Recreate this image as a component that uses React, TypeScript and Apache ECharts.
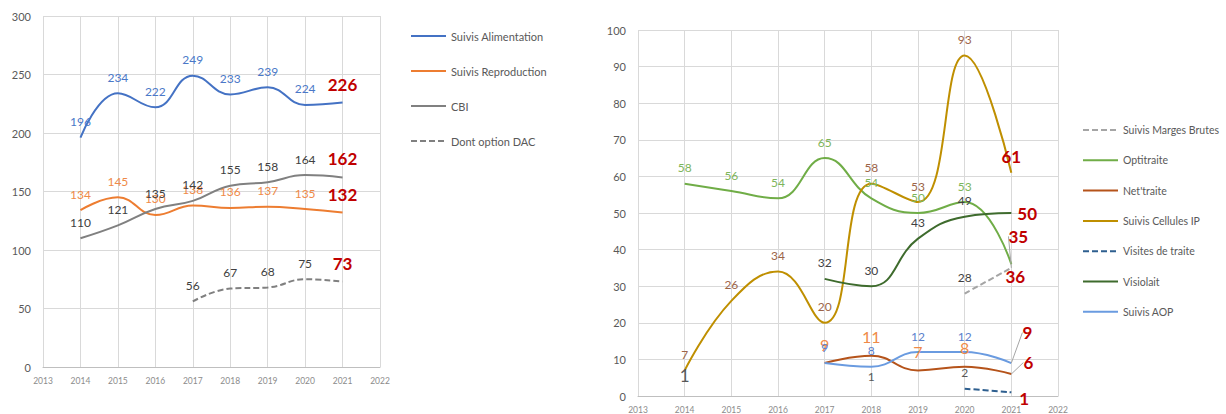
import React, { useEffect, useRef } from "react";
import * as echarts from "echarts";

const years = [2014, 2015, 2016, 2017, 2018, 2019, 2020, 2021];
const xTicksMin = 2013;
const xTicksMax = 2022;

// Left chart
const suivisAlimentation = [196, 234, 222, 249, 233, 239, 224, 226];
const suivisReproduction = [134, 145, 130, 138, 136, 137, 135, 132];
const cbi = [110, 121, 135, 142, 155, 158, 164, 162];
const dontOptionDAC = [null, null, null, 56, 67, 68, 75, 73];

// Right chart
const suivisMargesBrutes = [null, null, null, null, null, null, 28, 35];
const optitraite = [58, 56, 54, 65, 54, 50, 53, 36];
const nettraite = [null, null, null, 9, 11, 7, 8, 6];
const suivisCellulesIP = [7, 26, 34, 20, 58, 53, 93, 61];
const visitesDeTraite = [1, null, null, null, 1, null, 2, 1];
const visiolait = [null, null, null, 32, 30, 43, 49, 50];
const suivisAOP = [null, null, null, 9, 8, 12, 12, 9];

const FONT = 'Lato, "Noto Sans", sans-serif';
const RED = "#c00000";

type Lbl = Record<string, any>;

function mk(values: (number | null)[], last: Lbl, extra: Record<number, Lbl> = {}, lastLine = false) {
  return values.map((v, i) => {
    const item: any = { value: [years[i], v === null ? "-" : v] };
    if (i === values.length - 1) {
      item.label = { color: RED, fontWeight: "bold", fontSize: 17, ...last };
      if (lastLine) item.labelLine = { show: true, lineStyle: { color: "#a5a5a5", width: 1 } };
    }
    if (extra[i]) item.label = { ...(item.label || {}), ...extra[i] };
    return item;
  });
}

function line(
  name: string,
  idx: number,
  color: string,
  labelColor: string,
  data: any[],
  opts: Record<string, any> = {}
) {
  const { dashed, fontSize = 12, distance = 10, width = 2, layout } = opts;
  const s: any = {
    name,
    type: "line",
    xAxisIndex: idx,
    yAxisIndex: idx,
    smooth: 0.45,
    connectNulls: false,
    symbol: "circle",
    symbolSize: 0,
    itemStyle: { color },
    lineStyle: { color, width, type: dashed ? [6, 3] : "solid" },
    label: {
      show: true,
      position: "top",
      distance,
      color: labelColor,
      fontSize,
      fontFamily: FONT,
    },
    emphasis: { disabled: true },
    data,
  };
  if (layout) s.labelLayout = layout;
  return s;
}

export default function App() {
  const ref = useRef<HTMLDivElement>(null);

  useEffect(() => {
    if (!ref.current) return;
    const chart = echarts.init(ref.current, undefined, { renderer: "svg" });

    const xAxisBase = (gridIndex: number) => ({
      gridIndex,
      type: "value",
      min: xTicksMin,
      max: xTicksMax,
      interval: 1,
      axisLine: { show: true, lineStyle: { color: "#bfbfbf" } },
      axisTick: { show: false },
      axisLabel: { color: "#8c8c8c", fontSize: 8.5, margin: 9, fontFamily: FONT, formatter: (v: number) => String(v) },
      splitLine: { show: true, lineStyle: { color: "#d9d9d9" } },
    });
    const yAxisBase = (gridIndex: number, max: number, interval: number, margin: number) => ({
      gridIndex,
      type: "value",
      min: 0,
      max,
      interval,
      axisLine: { show: false },
      axisTick: { show: false },
      axisLabel: { color: "#595959", fontSize: 11, margin, fontFamily: FONT },
      splitLine: { show: true, lineStyle: { color: "#d9d9d9" } },
    });

    const option: any = {
      animation: false,
      textStyle: { fontFamily: FONT },
      grid: [
        { left: 43, top: 16, width: 337, height: 351 },
        { left: 638, top: 30, width: 420, height: 368 },
      ],
      xAxis: [xAxisBase(0), xAxisBase(1)],
      yAxis: [yAxisBase(0, 300, 50, 12), yAxisBase(1, 100, 10, 12)],
      legend: [
        {
          orient: "vertical",
          left: 410,
          top: 29,
          padding: 0,
          itemWidth: 35,
          itemHeight: 14,
          itemGap: 21,
          itemStyle: { opacity: 0 },
          textStyle: { color: "#595959", fontSize: 11, fontFamily: FONT, lineHeight: 14 },
          data: ["Suivis Alimentation", "Suivis Reproduction", "CBI", "Dont option DAC"],
        },
        {
          orient: "vertical",
          left: 1082,
          top: 123,
          padding: 0,
          itemWidth: 35,
          itemHeight: 14,
          itemGap: 16.3,
          itemStyle: { opacity: 0 },
          textStyle: { color: "#595959", fontSize: 10.5, fontFamily: FONT, lineHeight: 14 },
          data: [
            "Suivis Marges Brutes",
            "Optitraite",
            "Net'traite",
            "Suivis Cellules IP",
            "Visites de traite",
            "Visiolait",
            "Suivis AOP",
          ],
        },
      ],
      series: [
        line("Suivis Alimentation", 0, "#4472c4", "#4a78c8", mk(suivisAlimentation, { distance: 10 })),
        line("Suivis Reproduction", 0, "#ed7d31", "#ef8a48", mk(suivisReproduction, { distance: 10 })),
        line("CBI", 0, "#808080", "#404040", mk(cbi, { distance: 10 })),
        line("Dont option DAC", 0, "#808080", "#404040", mk(dontOptionDAC, { distance: 10 }), { dashed: true }),

        line("Suivis Marges Brutes", 1, "#a5a5a5", "#404040", mk(suivisMargesBrutes, { distance: 6 }, {}, true), {
          dashed: true,
          layout: (p: any) => (p.dataIndex === 7 ? { dx: 7, dy: -17 } : {}),
        }),
        line("Optitraite", 1, "#70ad47", "#7db55a", mk(optitraite, { position: "bottom", distance: 4, offset: [4, 0] })),
        line("Net'traite", 1, "#b5531a", "#ef8a48", mk(nettraite, { distance: 6 }, {}, true), {
          fontSize: 16,
          distance: 11,
          layout: (p: any) => (p.dataIndex === 7 ? { dx: 17, dy: 3 } : {}),
        }),
        line("Suivis Cellules IP", 1, "#bf8f00", "#9c6448", mk(suivisCellulesIP, { distance: 8 })),
        line(
          "Visites de traite",
          1,
          "#2e5f8f",
          "#595959",
          mk(visitesDeTraite, { position: "right", distance: 6, offset: [2, 6] }, { 0: { fontSize: 17, distance: 8 } }),
          { dashed: true }
        ),
        line("Visiolait", 1, "#3e6b2d", "#404040", mk(visiolait, { position: "right", distance: 6 })),
        line("Suivis AOP", 1, "#6a9be0", "#5a80cc", mk(suivisAOP, { distance: 6 }, {}, true), {
          layout: (p: any) => (p.dataIndex === 7 ? { dx: 16, dy: -16 } : {}),
        }),
      ],
    };

    chart.setOption(option);
    return () => chart.dispose();
  }, []);

  return (
    <div
      ref={ref}
      style={{ position: "fixed", left: 0, top: 0, width: 1226, height: 414, background: "#ffffff" }}
    />
  );
}
